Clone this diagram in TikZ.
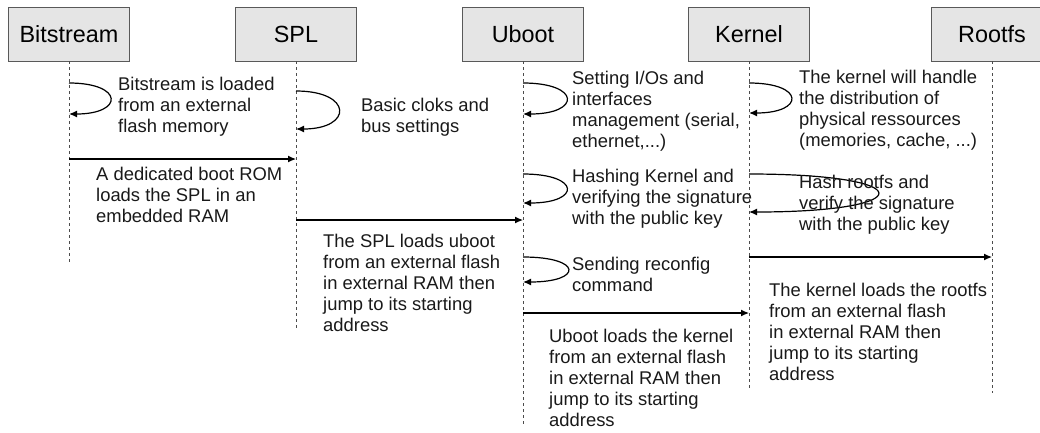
\documentclass[tikz,border=0pt]{standalone}
\usepackage{fontspec}
\setmainfont{Liberation Sans}
\usetikzlibrary{arrows.meta}

\tikzset{
  lifebox/.style={draw=black!65, fill=black!10, minimum width=121pt, minimum height=54pt,
    inner sep=0pt, font=\fontsize{23.4}{28}\selectfont},
  lifeline/.style={draw=black!70, line width=0.9pt, dash pattern=on 3pt off 3pt},
  msg/.style={line width=1.2pt, -{Latex[length=8pt, width=7pt]}},
  note/.style={anchor=north west, inner sep=0pt, align=left, text=black!90,
    font=\fontsize{18.4}{21}\selectfont},
}

\begin{document}
\begin{tikzpicture}[x=1pt, y=-1pt]
      \useasboundingbox (0,0) rectangle (1040,432);

      \foreach \name/\x/\y in {Bitstream/69/263, SPL/296/328, Uboot/523/425, Kernel/749/390, Rootfs/992/393} {
        \node[lifebox] (\name) at (\x,34) {\name};
        \coordinate (\name-end) at (\x,\y);
        \draw[lifeline] (\name) -- (\name-end);
      }

      % self messages
      \draw[msg] (Bitstream |- 0,83) .. controls +(55,0) and +(55,0) .. (Bitstream |- 0,114);
      \draw[msg] (SPL |- 0,91) .. controls +(57,0) and +(57,0) .. (SPL |- 0,129);
      \draw[msg] (Uboot |- 0,83) .. controls +(58,0) and +(58,0) .. (Uboot |- 0,114);
      \draw[msg] (Kernel |- 0,83) .. controls +(56,0) and +(56,0) .. (Kernel |- 0,113);
      \draw[msg] (Uboot |- 0,174) .. controls +(58,0) and +(58,0) .. (Uboot |- 0,203);
      \draw[msg] (Kernel |- 0,174) .. controls +(172,0) and +(172,0) .. (Kernel |- 0,212);
      \draw[msg] (Uboot |- 0,257) .. controls +(60,0) and +(60,0) .. (Uboot |- 0,282);

      % messages between lifelines
      \draw[msg] (Bitstream |- 0,159) -- (SPL |- 0,159);
      \draw[msg] (SPL |- 0,220) -- (Uboot |- 0,220);
      \draw[msg] (Kernel |- 0,257) -- (Rootfs |- 0,257);
      \draw[msg] (Uboot |- 0,313) -- (Kernel |- 0,313);

      \node[note] (bitload) at (118,77) {Bitstream is loaded\\from an external\\flash memory};
      \node[note] (splclk) at (361,98) {Basic cloks and\\bus settings};
      \node[note] (bootrom) at (96,167) {A dedicated boot ROM\\loads the SPL in an\\embedded RAM};
      \node[note] (splload) at (323,234) {The SPL loads uboot\\from an external flash\\in external RAM then\\jump to its starting\\address};
      \node[note] (ubootio) at (572,71) {Setting I/Os and\\interfaces\\management (serial,\\ethernet,...)};
      \node[note] (kernres) at (799,70) {The kernel will handle\\the distribution of\\physical ressources\\(memories, cache, ...)};
      \node[note] (ubhash) at (572,169) {Hashing Kernel and\\verifying the signature\\with the public key};
      \node[note] (kernhash) at (799,175) {Hash rootfs and\\verify the signature\\with the public key};
      \node[note] (reconf) at (572,257) {Sending reconfig\\command};
      \node[note] (kernload) at (769,283) {The kernel loads the rootfs\\from an external flash\\in external RAM then\\jump to its starting\\address};
      \node[note] (ubload) at (549,329) {Uboot loads the kernel\\from an external flash\\in external RAM then\\jump to its starting\\address};
    \end{tikzpicture}
\end{document}
